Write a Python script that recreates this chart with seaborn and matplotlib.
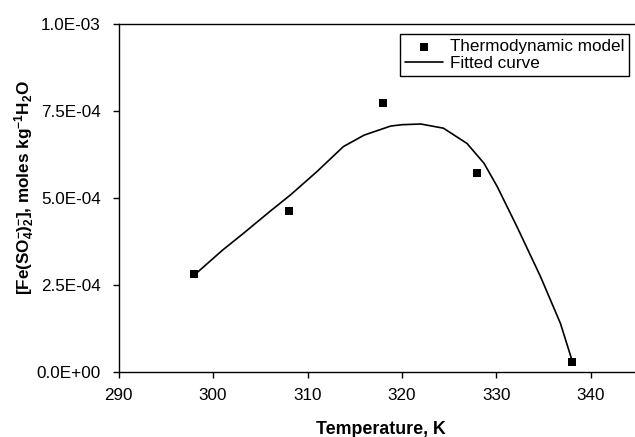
import seaborn as sns
import matplotlib.pyplot as plt
import matplotlib.ticker as mticker
import pandas as pd

# Thermodynamic model points
temp_model = [298, 308, 318, 328, 338]
conc_model = [2.80e-4, 4.63e-4, 7.73e-4, 5.72e-4, 0.29e-4]

# Fitted curve
temp_fit = [298, 301, 303.2, 306, 308.2, 311, 313.8, 316, 318.8, 320, 322, 324.4,
            326.9, 328.7, 330.1, 332.2, 334.7, 336.8, 338]
conc_fit = [2.78e-4, 3.50e-4, 3.98e-4, 4.61e-4, 5.09e-4, 5.76e-4, 6.48e-4, 6.81e-4,
            7.07e-4, 7.11e-4, 7.13e-4, 7.01e-4, 6.57e-4, 6.00e-4, 5.33e-4, 4.17e-4,
            2.73e-4, 1.39e-4, 0.35e-4]

xticks = [290, 300, 310, 320, 330, 340]
yticks = [0, 2.5e-4, 5.0e-4, 7.5e-4, 1.0e-3]

sns.set_style('ticks')
plt.rcParams['font.family'] = ['Liberation Sans', 'DejaVu Sans']
plt.rcParams['mathtext.fontset'] = 'custom'
plt.rcParams['mathtext.rm'] = 'Liberation Sans:bold'
plt.rcParams['mathtext.bf'] = 'Liberation Sans:bold'
plt.rcParams['mathtext.default'] = 'bf'
plt.rcParams['text.color'] = 'black'
plt.rcParams['axes.labelcolor'] = 'black'

df_model = pd.DataFrame({'T': temp_model, 'c': conc_model})
df_fit = pd.DataFrame({'T': temp_fit, 'c': conc_fit})

fig = plt.figure(figsize=(6.35, 4.37), dpi=100)
ax = fig.add_axes([0.187, 0.1494, 0.813, 0.795])

sns.lineplot(data=df_fit, x='T', y='c', ax=ax, color='black', linewidth=1.2,
             label='Fitted curve', sort=False)
sns.scatterplot(data=df_model, x='T', y='c', ax=ax, color='black', marker='s', s=36,
                linewidth=0, label='Thermodynamic model', zorder=3)

ax.set_xlim(290, 344.7)
ax.set_ylim(0, 1.0e-3)
ax.set_xticks(xticks)
ax.set_yticks(yticks)
ax.yaxis.set_major_formatter(mticker.FuncFormatter(lambda v, p: '{:.1E}'.format(v)))
ax.tick_params(axis='both', direction='out', length=4, width=1, color='black',
               labelsize=12.3, labelcolor='black')
ax.tick_params(axis='y', pad=9)
ax.tick_params(axis='x', pad=8)

for side in ['left', 'bottom', 'top']:
    ax.spines[side].set_visible(True)
    ax.spines[side].set_color('black')
    ax.spines[side].set_linewidth(1.0)
ax.spines['right'].set_visible(False)

ax.set_xlabel('Temperature, K', fontsize=12.8, fontweight='bold', color='black')
ax.set_ylabel(r'[Fe(SO$_4^{-}$)$_2^{-}$], moles kg$^{-1}$H$_2$O', fontsize=12.3,
              fontweight='bold', color='black')
ax.xaxis.set_label_coords(0.508, -0.142)
ax.yaxis.set_label_coords(-0.158, 0.53)

handles, labels = ax.get_legend_handles_labels()
order = [labels.index('Thermodynamic model'), labels.index('Fitted curve')]
leg = ax.legend([handles[i] for i in order], [labels[i] for i in order],
                loc='upper right', bbox_to_anchor=(629.3 / 635, 1 - 34.3 / 437),
                bbox_transform=fig.transFigure, borderaxespad=0, fancybox=False,
                edgecolor='black', framealpha=1, fontsize=12.3, handlelength=2.2,
                handletextpad=0.4, labelspacing=0.1, borderpad=0.3)
leg.get_frame().set_linewidth(1.0)
for t in leg.get_texts():
    t.set_color('black')

fig.savefig('out.png', dpi=100)
